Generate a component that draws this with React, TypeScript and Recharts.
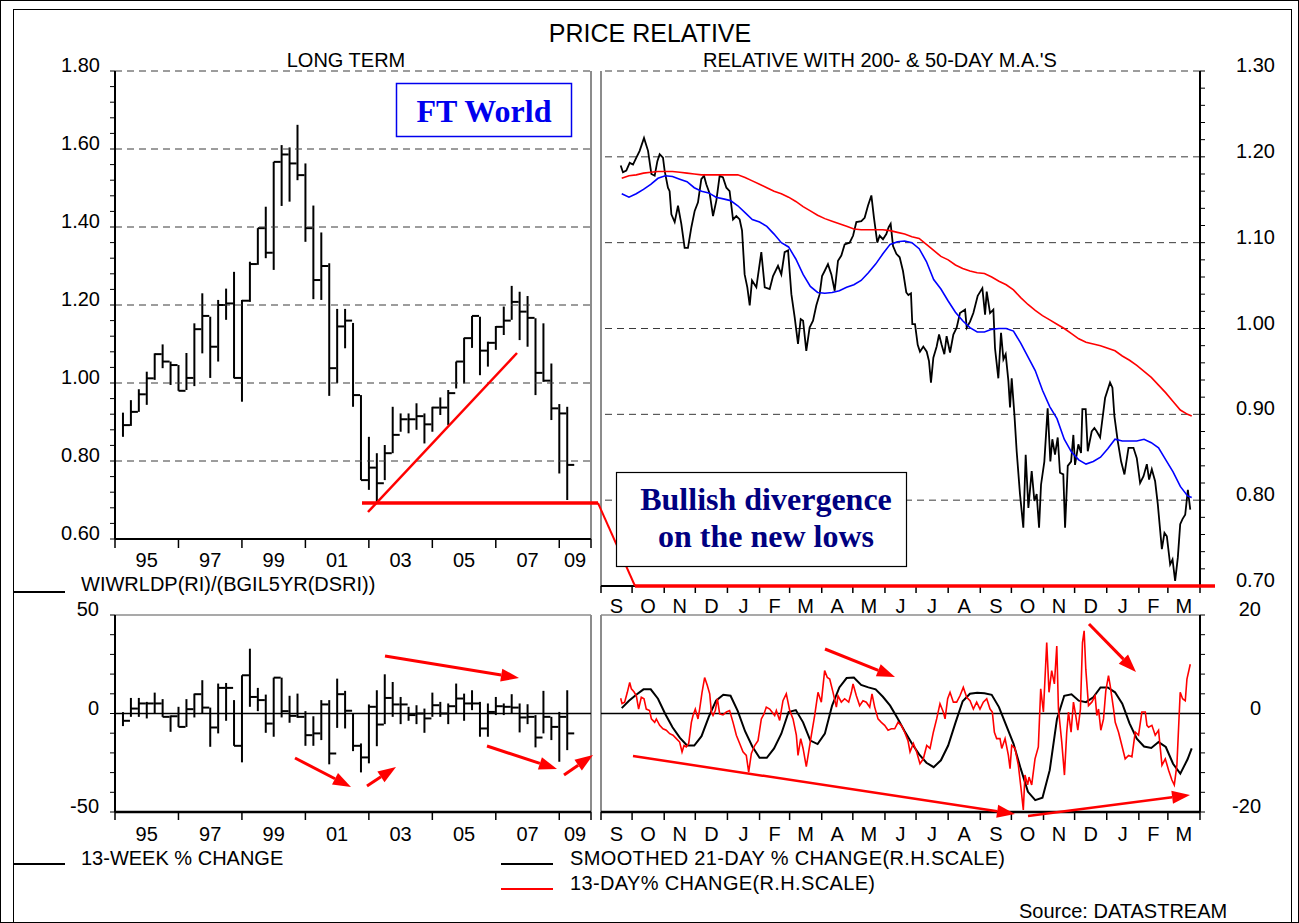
import React from 'react';
import { ComposedChart, LineChart, Line, Bar, XAxis, YAxis, ReferenceLine } from 'recharts';

const SANS = "'Liberation Sans', Arial, sans-serif";
const SERIF = "'Liberation Serif', 'Times New Roman', serif";
const RED = '#ff0000';

// ---- long term panel: quarterly price relative (high / low / close) ----
const ltQuarters = [
  '1995Q1', '1995Q2', '1995Q3', '1995Q4', '1996Q1', '1996Q2', '1996Q3', '1996Q4',
  '1997Q1', '1997Q2', '1997Q3', '1997Q4', '1998Q1', '1998Q2', '1998Q3', '1998Q4',
  '1999Q1', '1999Q2', '1999Q3', '1999Q4', '2000Q1', '2000Q2', '2000Q3', '2000Q4',
  '2001Q1', '2001Q2', '2001Q3', '2001Q4', '2002Q1', '2002Q2', '2002Q3', '2002Q4',
  '2003Q1', '2003Q2', '2003Q3', '2003Q4', '2004Q1', '2004Q2', '2004Q3', '2004Q4',
  '2005Q1', '2005Q2', '2005Q3', '2005Q4', '2006Q1', '2006Q2', '2006Q3', '2006Q4',
  '2007Q1', '2007Q2', '2007Q3', '2007Q4', '2008Q1', '2008Q2', '2008Q3', '2008Q4',
  '2009Q1',
];
const ltHigh = [
  0.924, 0.956, 0.984, 1.029, 1.076, 1.099, 1.055, 1.046, 1.077, 1.153,
  1.230, 1.170, 1.213, 1.242, 1.285, 1.213, 1.311, 1.397, 1.452, 1.567,
  1.610, 1.604, 1.662, 1.563, 1.455, 1.386, 1.307, 1.190, 1.190, 1.154,
  0.969, 0.862, 0.820, 0.841, 0.939, 0.922, 0.922, 0.948, 0.922, 0.939,
  0.963, 0.982, 1.055, 1.116, 1.172, 1.170, 1.106, 1.146, 1.196, 1.249,
  1.234, 1.223, 1.166, 1.153, 1.050, 0.946, 0.939,
];
const ltLow = [
  0.862, 0.890, 0.926, 0.944, 1.008, 1.038, 0.995, 0.980, 0.982, 0.992,
  1.076, 1.013, 1.055, 1.162, 1.012, 0.952, 1.208, 1.303, 1.320, 1.290,
  1.454, 1.465, 1.520, 1.362, 1.215, 1.213, 0.967, 1.000, 1.089, 0.939,
  0.751, 0.726, 0.692, 0.751, 0.820, 0.875, 0.871, 0.880, 0.845, 0.875,
  0.918, 0.892, 0.986, 0.999, 1.090, 1.020, 1.042, 1.085, 1.123, 1.162,
  1.110, 1.093, 0.969, 1.003, 0.905, 0.768, 0.700,
];
const ltClose = [
  0.892, 0.926, 0.971, 1.012, 1.074, 1.055, 1.046, 0.980, 1.013, 1.138,
  1.172, 1.093, 1.200, 1.204, 1.013, 1.211, 1.305, 1.397, 1.334, 1.567,
  1.586, 1.563, 1.533, 1.397, 1.264, 1.300, 1.038, 1.145, 1.160, 0.969,
  0.751, 0.783, 0.743, 0.820, 0.867, 0.907, 0.907, 0.915, 0.894, 0.937,
  0.937, 0.974, 1.055, 1.115, 1.172, 1.083, 1.103, 1.144, 1.160, 1.208,
  1.183, 1.167, 1.026, 1.006, 0.935, 0.922, 0.790,
];

// ---- 13-week % change, same quarters ----
const wkHigh = [
  0.7, 7.9, 7.9, 5.9, 10.6, 7.3, -1.0, 3.4, 7.3, 10.1,
  16.9, 3.0, 15.2, 15.5, 6.8, 19.4, 32.9, 13.0, 9.6, 18.2,
  18.2, 9.0, 10.1, 1.2, -1.4, 6.8, 6.8, 17.7, 11.5, 0.0,
  -15.2, 4.6, 11.8, 19.9, 16.0, 8.4, 3.4, 4.2, 2.5, 10.6,
  5.9, 5.1, 15.2, 10.1, 11.8, 5.9, 5.1, 8.4, 5.1, 9.8,
  5.1, 4.7, -0.8, 11.5, -1.7, 0.8, 11.8,
];
const wkLow = [
  -6.4, -1.7, -1.7, -2.5, 0.0, -1.7, -9.3, -6.8, -6.8, -2.0,
  0.0, -16.9, -10.1, -3.7, -16.4, -24.8, 3.4, 1.2, -9.8, -11.8,
  -2.0, -4.7, -2.2, -16.4, -16.4, -13.5, -25.8, -7.3, -7.6, -19.1,
  -29.9, -25.3, -16.6, -5.4, -1.7, -5.4, -3.7, -5.4, -9.8, -1.7,
  -1.7, -5.4, 0.0, -3.7, 1.7, -11.8, -11.8, -0.8, -0.8, 0.0,
  -9.6, -5.4, -17.2, -10.1, -13.5, -24.5, -18.6,
];
const wkClose = [
  -3.7, 2.5, 5.1, 5.1, 5.1, -1.7, -1.4, -6.8, 2.2, 9.8,
  3.0, -7.1, 13.0, 13.0, -16.4, 19.4, 8.4, 6.8, -5.1, 18.2,
  1.2, -1.2, -1.7, -11.0, -10.1, 4.6, -20.3, 9.8, 1.4, -16.4,
  -22.3, 3.4, -5.6, 7.9, 4.6, 4.6, -0.8, 0.0, -2.5, 4.2,
  0.0, 3.7, 7.6, 5.1, 5.1, -7.6, 0.8, 3.7, 3.4, 3.0,
  -2.0, -1.7, -12.2, -1.7, -6.8, -1.7, -10.1,
];

// ---- daily panels: price relative and 13-day change (days since 1 Sep 2007) ----
const priceDay = [
  19, 21.2, 24.4, 27.7, 30.9, 34.1, 37.3, 41.5, 45.4, 48.6, 51.8, 54.4, 56.6, 59.8, 61.4, 64.6,
  66.2, 67.9, 71.1, 74.3, 77.5, 80.7, 83.9, 87.2, 90.4, 93.6, 96.8, 99.4, 101.6, 104.9, 108.1, 111.3,
  114.5, 117.7, 121, 124.1, 127.4, 130.6, 133.8, 136.1, 138.6, 141.2, 143.5, 145.7, 149.9, 154.7, 158, 162.8,
  166, 170.8, 174, 177.2, 180.5, 183.7, 186.9, 190.1, 192.7, 195, 198.1, 201.3, 204.6, 207.8, 211, 213.3,
  215.8, 219, 222.3, 225.5, 228.7, 231.9, 235.1, 239.9, 243.2, 246.4, 251.2, 254.4, 257.6, 260.9, 263.4, 266.6,
  268.9, 272.1, 275.3, 277.6, 279.5, 281.8, 285, 288.2, 291.4, 294.6, 296.6, 299.1, 300.4, 303, 305.6, 307.8,
  311, 314.3, 316.5, 318.4, 320.7, 323.9, 326.2, 328.7, 331.3, 333.5, 336.8, 340, 343.2, 346.4, 351.3, 352.9,
  356.1, 359.3, 363.5, 368, 370.6, 372.2, 375.4, 378.6, 380.2, 383.4, 386, 388.3, 390.5, 393.1, 394.7, 396.3,
  398.9, 401.1, 404.3, 407.5, 409.8, 412.4, 415.6, 418.2, 420.4, 422.7, 424.6, 427.8, 431, 433.6, 435.5, 438.1,
  440.7, 442.9, 446.1, 447.8, 450.4, 453.6, 455.8, 457.4, 460.6, 463.2, 464.5, 467.7, 469.7, 473.5, 476.1, 478.4,
  481.6, 486.4, 491.2, 493.5, 495.4, 498.6, 501.9, 505.1, 509, 513.8, 517, 520.2, 523.5, 526.7, 528.9, 531.5,
  534.7, 537.3, 541.2, 543.7, 546, 549.2, 551.5, 554, 556.6, 558.9, 561.1, 563.7, 566.3, 568.6,
];
const priceVal = [
  1.190, 1.182, 1.184, 1.193, 1.191, 1.199, 1.207, 1.222, 1.207, 1.180, 1.178, 1.195, 1.203, 1.199, 1.184, 1.164,
  1.160, 1.133, 1.124, 1.143, 1.122, 1.094, 1.094, 1.118, 1.137, 1.147, 1.174, 1.178, 1.168, 1.157, 1.131, 1.149,
  1.178, 1.176, 1.164, 1.160, 1.127, 1.131, 1.127, 1.114, 1.063, 1.048, 1.027, 1.056, 1.048, 1.089, 1.048, 1.046,
  1.061, 1.073, 1.063, 1.089, 1.091, 1.040, 1.013, 0.982, 1.011, 1.009, 0.974, 1.001, 1.009, 1.027, 1.040, 1.061,
  1.067, 1.075, 1.063, 1.044, 1.079, 1.085, 1.098, 1.100, 1.108, 1.124, 1.125, 1.129, 1.143, 1.155, 1.129, 1.100,
  1.108, 1.104, 1.110, 1.118, 1.122, 1.096, 1.087, 1.083, 1.067, 1.042, 1.039, 1.041, 1.005, 1.005, 0.981, 0.973,
  0.979, 0.973, 0.962, 0.937, 0.966, 0.979, 0.993, 0.981, 0.970, 0.991, 0.972, 0.993, 1.001, 1.018, 1.022, 1.001,
  1.008, 1.018, 1.038, 1.047, 1.016, 1.043, 1.018, 1.022, 0.977, 0.942, 0.995, 0.964, 0.970, 0.939, 0.908, 0.942,
  0.900, 0.857, 0.807, 0.768, 0.853, 0.791, 0.834, 0.799, 0.807, 0.768, 0.818, 0.845, 0.907, 0.845, 0.871, 0.853,
  0.873, 0.832, 0.830, 0.768, 0.840, 0.845, 0.876, 0.841, 0.865, 0.855, 0.906, 0.906, 0.857, 0.880, 0.884, 0.880,
  0.873, 0.919, 0.937, 0.931, 0.898, 0.869, 0.845, 0.830, 0.861, 0.861, 0.849, 0.820, 0.828, 0.842, 0.824, 0.836,
  0.822, 0.795, 0.743, 0.762, 0.758, 0.725, 0.731, 0.706, 0.733, 0.772, 0.778, 0.783, 0.812, 0.789,
];
const chgDay = [
  19, 20.3, 22.8, 25.4, 27.7, 29.3, 31.8, 34.1, 36.3, 38.9, 41.5, 43.7, 46.9, 48.6, 51.8, 53.4,
  56.6, 59.8, 63, 66.3, 69.5, 72.7, 75.9, 78.2, 80.1, 82.3, 84.6, 87.2, 88.8, 91, 93.6, 95.2,
  97.5, 100, 102.6, 104.9, 106.5, 108.1, 110.3, 112.3, 114.5, 117.7, 121, 124.1, 127.4, 130.6, 133.8, 137,
  140.2, 142.5, 145.1, 148.3, 151.5, 154.7, 157.3, 159.5, 162.8, 165, 167.6, 169.2, 172.4, 175.6, 178.8, 182.1,
  185.3, 188.5, 190.1, 192.7, 195, 198.1, 200.4, 203, 206.2, 209.4, 212.6, 215.8, 218.4, 220.7, 223.9, 227.1,
  228.7, 231.9, 235.1, 239, 241.6, 243.2, 246.4, 249.6, 252.8, 256, 259.3, 261.5, 264.1, 267.3, 270.5, 273.7,
  277, 280.2, 283.4, 286.6, 289.8, 293, 296.2, 298.2, 301.4, 304.6, 307.8, 311, 314.3, 317.5, 320.7, 323.9,
  327.1, 330.3, 332, 334.5, 336.8, 340, 343.2, 346.4, 349.6, 352.9, 356.1, 359.3, 362.5, 365.7, 368.9, 372.2,
  375.4, 377.6, 379.6, 381.8, 385, 386.7, 389.9, 393.1, 394.7, 396.3, 399.5, 402.7, 405.3, 407.5, 409.1, 411.7,
  413, 415.6, 418.8, 422, 424.3, 426.9, 430.1, 432.3, 434.9, 437.5, 439.8, 441.4, 444.6, 447.2, 449.4, 451.1,
  453.6, 455.9, 458.1, 460.1, 462.6, 464.6, 466.2, 467.8, 470.4, 473.6, 476.8, 478.4, 480.1, 482.3, 484.9, 487.1,
  489.7, 491.3, 494.6, 496.2, 499.4, 502.6, 505.8, 509.1, 512.3, 515.5, 518.7, 521.9, 525.2, 526.8, 528.4, 531.6,
  534.8, 538, 541.3, 544.5, 547.7, 550.9, 553.2, 555.7, 558.9, 561.2, 563.8, 565.4, 568.6,
];
const chgVal = [
  3.1, 2.0, 2.3, 4.3, 6.3, 5.0, 4.4, 3.6, 0.9, 3.3, 3.0, 0.9, 0.6, -1.1, -1.8, -1.1,
  -2.4, -3.1, -3.4, -4.1, -4.4, -5.1, -5.8, -7.8, -6.5, -6.8, -6.1, -1.8, -0.4, 0.9, -1.1, 0.9,
  4.3, 7.3, 5.7, 4.0, 0.3, -0.4, 0.6, 3.0, -0.1, -0.3, 0.3, 0.6, -1.8, -4.4, -6.1, -7.8,
  -8.5, -11.9, -8.1, -6.5, -5.5, -1.1, -0.1, 1.3, 0.9, 0.3, -0.4, 0.6, -1.4, 2.6, 4.0, 0.6,
  -1.1, -4.4, -8.5, -5.1, -7.1, -10.8, -7.8, -4.4, -0.4, 4.3, 2.3, 8.7, 7.3, 7.0, 4.3, 1.3,
  3.6, 2.3, 3.0, 2.3, 4.3, 6.0, 3.6, 1.6, 2.6, 2.3, 1.3, 4.0, 1.3, -1.1, -1.8, -2.4,
  -3.4, -3.1, -3.1, -1.8, -2.4, -3.8, -5.5, -7.8, -6.1, -7.8, -10.2, -9.2, -6.5, -7.1, -3.8, -1.1,
  2.0, 0.3, -1.1, 3.0, 4.3, 2.3, 2.3, 3.6, 5.3, 3.3, 2.6, 0.9, 2.3, 0.9, 2.3, 3.0,
  0.9, 0.3, -3.8, -5.1, -5.1, -7.1, -5.1, -8.5, -11.2, -6.5, -7.1, -10.5, -15.2, -19.6, -12.5, -14.5,
  -12.9, -14.5, -9.2, -6.8, 5.0, 0.3, 14.4, 4.3, 8.7, 6.0, 13.7, 0.9, -5.8, -12.5, -3.8, 0.3,
  -3.8, 2.3, -0.4, -3.4, 0.9, 14.4, 16.8, 9.0, 1.6, 2.3, 3.6, -0.4, 0.9, -3.4, -1.1, 4.6,
  7.7, 5.7, 0.9, -1.8, -3.8, -6.5, -9.2, -8.5, -8.8, -3.8, -4.4, 0.3, 0.3, -2.4, -2.8, -2.4,
  -4.4, -3.4, -10.5, -9.2, -11.5, -13.5, -14.5, -10.5, 4.3, 3.0, 2.6, 7.0, 10.0,
];

const relDates = [
  '2007-09-21', '2007-09-28', '2007-10-05', '2007-10-12', '2007-10-19', '2007-10-26',
  '2007-11-02', '2007-11-09', '2007-11-16', '2007-11-23', '2007-11-30', '2007-12-07',
  '2007-12-14', '2007-12-21', '2007-12-28', '2008-01-04', '2008-01-11', '2008-01-18',
  '2008-01-25', '2008-02-01', '2008-02-08', '2008-02-15', '2008-02-22', '2008-02-29',
  '2008-03-07', '2008-03-14', '2008-03-21', '2008-03-28', '2008-04-04', '2008-04-11',
  '2008-04-18', '2008-04-25', '2008-05-02', '2008-05-09', '2008-05-16', '2008-05-23',
  '2008-05-30', '2008-06-06', '2008-06-13', '2008-06-20', '2008-06-27', '2008-07-04',
  '2008-07-11', '2008-07-18', '2008-07-25', '2008-08-01', '2008-08-08', '2008-08-15',
  '2008-08-22', '2008-08-29', '2008-09-05', '2008-09-12', '2008-09-19', '2008-09-26',
  '2008-10-03', '2008-10-10', '2008-10-17', '2008-10-24', '2008-10-31', '2008-11-07',
  '2008-11-14', '2008-11-21', '2008-11-28', '2008-12-05', '2008-12-12', '2008-12-19',
  '2008-12-26', '2009-01-02', '2009-01-09', '2009-01-16', '2009-01-23', '2009-01-30',
  '2009-02-06', '2009-02-13', '2009-02-20', '2009-02-27', '2009-03-06', '2009-03-13',
  '2009-03-20', '2009-03-24',
];
const relMa50 = [
  1.157, 1.153, 1.157, 1.162, 1.168, 1.175, 1.178, 1.177, 1.174, 1.171,
  1.164, 1.160, 1.158, 1.153, 1.151, 1.149, 1.143, 1.135, 1.127, 1.124,
  1.119, 1.110, 1.100, 1.095, 1.081, 1.063, 1.049, 1.042, 1.041, 1.042,
  1.044, 1.048, 1.051, 1.056, 1.065, 1.075, 1.087, 1.098, 1.101, 1.102,
  1.100, 1.093, 1.078, 1.057, 1.046, 1.032, 1.019, 1.009, 1.001, 0.996,
  0.996, 0.999, 1.000, 1.000, 0.997, 0.983, 0.967, 0.951, 0.928, 0.909,
  0.895, 0.871, 0.856, 0.847, 0.842, 0.845, 0.850, 0.860, 0.871, 0.869,
  0.869, 0.869, 0.871, 0.867, 0.861, 0.847, 0.833, 0.816, 0.805, 0.803,
];
const relMa200 = [
  1.175, 1.178, 1.179, 1.181, 1.182, 1.183, 1.183, 1.183, 1.182, 1.181,
  1.180, 1.179, 1.179, 1.179, 1.179, 1.179, 1.179, 1.176, 1.172, 1.168,
  1.164, 1.160, 1.157, 1.153, 1.148, 1.142, 1.137, 1.132, 1.128, 1.125,
  1.122, 1.119, 1.116, 1.115, 1.115, 1.115, 1.115, 1.114, 1.112, 1.110,
  1.107, 1.105, 1.098, 1.091, 1.084, 1.080, 1.074, 1.070, 1.067, 1.065,
  1.064, 1.060, 1.055, 1.051, 1.045, 1.036, 1.028, 1.021, 1.015, 1.010,
  1.005, 1.000, 0.994, 0.988, 0.984, 0.982, 0.980, 0.977, 0.974, 0.968,
  0.963, 0.957, 0.950, 0.943, 0.934, 0.925, 0.915, 0.905, 0.900, 0.898,
];
const chgSmooth = [
  1.1, 2.6, 3.8, 4.9, 4.9, 3.0, -0.1, -2.8, -4.9, -6.5,
  -6.5, -4.6, -0.7, 2.6, 3.8, 3.6, 0.5, -3.6, -6.7, -9.0,
  -9.0, -7.1, -4.1, 0.3, 0.7, -1.8, -5.5, -6.2, -4.1, 1.6,
  5.3, 7.2, 7.3, 5.8, 5.3, 4.9, 3.4, 1.6, -0.9, -3.6,
  -6.1, -8.3, -10.0, -10.9, -9.5, -6.5, -1.9, 2.5, 4.0, 4.2,
  4.1, 3.8, 1.3, -2.4, -6.1, -11.2, -15.9, -17.6, -17.1, -11.5,
  -1.1, 3.6, 3.9, 2.6, 2.3, 3.3, 5.3, 5.3, 4.3, 2.0,
  -2.0, -5.1, -6.7, -7.0, -5.8, -6.8, -10.2, -12.2, -9.3, -7.1,
];

// ---- axis ticks and labels ----
const yearMarks = [1995, 1997, 1999, 2001, 2003, 2005, 2007, 2009, 2010];
const yearLabelPos = [1996, 1998, 2000, 2002, 2004, 2006, 2008, 2009.5];
const yearLabels = ['95', '97', '99', '01', '03', '05', '07', '09'];
const monthStarts = [
  '2007-09-01', '2007-10-01', '2007-11-01', '2007-12-01', '2008-01-01', '2008-02-01',
  '2008-03-01', '2008-04-01', '2008-05-01', '2008-06-01', '2008-07-01', '2008-08-01',
  '2008-09-01', '2008-10-01', '2008-11-01', '2008-12-01', '2009-01-01', '2009-02-01',
  '2009-03-01', '2009-04-01',
];
const monthLabels = ['S', 'O', 'N', 'D', 'J', 'F', 'M', 'A', 'M', 'J', 'J', 'A', 'S', 'O', 'N', 'D', 'J', 'F', 'M'];
const ltGrid = [0.8, 1.0, 1.2, 1.4, 1.6, 1.8];
const relGrid = [0.8, 0.9, 1.0, 1.1, 1.2, 1.3];

const steps = (from: number, to: number, step: number) => {
  const n = Math.round((to - from) / step);
  const out: number[] = [];
  for (let k = 0; k <= n; k++) out.push(Math.round((from + k * step) * 1000) / 1000);
  return out;
};
const quarterPos = (q: string) => Number(q.slice(0, 4)) + Number(q.slice(5)) * 0.25;
const dayPos = (s: string) =>
  (Date.UTC(+s.slice(0, 4), +s.slice(5, 7) - 1, +s.slice(8, 10)) - Date.UTC(2007, 8, 1)) / 86400000;

const ltData = ltQuarters.map((q, i) => ({ t: quarterPos(q), range: [ltLow[i], ltHigh[i]], close: ltClose[i] }));
const wkData = ltQuarters.map((q, i) => ({ t: quarterPos(q), range: [wkLow[i], wkHigh[i]], close: wkClose[i] }));
const weekData = relDates.map((d, i) => ({ d: dayPos(d), ma50: relMa50[i], ma200: relMa200[i], smooth: chgSmooth[i] }));
const priceData = priceDay.map((d, i) => ({ d, price: priceVal[i] }));
const chgData = chgDay.map((d, i) => ({ d, chg: chgVal[i] }));

const monthDays = monthStarts.map(dayPos);
const monthMid = monthLabels.map((_, i) => (monthDays[i] + monthDays[i + 1]) / 2);
const yearTicks = [...yearMarks, ...yearLabelPos].sort((a, b) => a - b);
const monthTicks = [...monthDays, ...monthMid].sort((a, b) => a - b);

function makeXTick(marks: number[], pos: number[], labels: string[], len: number, base: number) {
  const markSet = new Set(marks);
  const labelAt = new Map(pos.map((p, i) => [p, labels[i]] as [number, string]));
  return (props: any) => {
    const { x, y, payload } = props;
    const v = payload.value;
    if (markSet.has(v)) return <line x1={x} y1={y} x2={x} y2={y + len} stroke="#000" strokeWidth={1.5} />;
    const lab = labelAt.get(v);
    if (!lab) return <g />;
    return (
      <text x={x} y={y + base} textAnchor="middle" fontSize={20} fontFamily={SANS} fill="#000">
        {lab}
      </text>
    );
  };
}

function makeYTick(side: 'left' | 'right', label: (v: number) => string | null, dx: number, anchor: 'start' | 'end') {
  return (props: any) => {
    const { x, y, payload } = props;
    const lab = label(payload.value);
    const dir = side === 'left' ? -1 : 1;
    return (
      <g>
        <line x1={x} y1={y} x2={x + dir * 5} y2={y} stroke="#000" strokeWidth={1} />
        {lab !== null && (
          <text x={x + dx} y={y + 1} textAnchor={anchor} fontSize={20} fontFamily={SANS} fill="#000">
            {lab}
          </text>
        )}
      </g>
    );
  };
}

// vertical high-low line with the close as a tick to the right
const HLCShape = (props: any) => {
  const { x, y, width, height, payload } = props;
  const cx = x + width / 2;
  const top = Math.min(y, y + height);
  const bot = Math.max(y, y + height);
  const [lo, hi] = payload.range;
  const cy = hi === lo ? top : bot - ((payload.close - lo) / (hi - lo)) * (bot - top);
  return (
    <g>
      <line x1={cx} y1={top} x2={cx} y2={bot} stroke="#000" strokeWidth={2} />
      <line x1={cx} y1={cy} x2={cx + 7} y2={cy} stroke="#000" strokeWidth={2} />
    </g>
  );
};

function Arrow({ x1, y1, x2, y2, w = 3 }: { x1: number; y1: number; x2: number; y2: number; w?: number }) {
  const a = Math.atan2(y2 - y1, x2 - x1);
  const head = 18;
  const hw = 6.5;
  const bx = x2 - head * Math.cos(a);
  const by = y2 - head * Math.sin(a);
  const px = -Math.sin(a) * hw;
  const py = Math.cos(a) * hw;
  return (
    <g>
      <line x1={x1} y1={y1} x2={bx} y2={by} stroke={RED} strokeWidth={w} />
      <polygon points={`${x2},${y2} ${bx + px},${by + py} ${bx - px},${by - py}`} fill={RED} />
    </g>
  );
}

const yearTick = makeXTick(yearMarks, yearLabelPos, yearLabels, 9, 28);
const yearTickLow = makeXTick(yearMarks, yearLabelPos, yearLabels, 8, 29);
const monthTick = makeXTick(monthDays, monthMid, monthLabels, 7, 27);
const monthTickLow = makeXTick(monthDays, monthMid, monthLabels, 8, 29);

const ltYTick = makeYTick('left', (v) => (Math.round(v * 100) % 20 === 0 ? v.toFixed(2) : null), -15, 'end');
const wkYTick = makeYTick('left', (v) => (v % 50 === 0 ? String(v) : null), -16, 'end');
const relYTick = makeYTick('right', (v) => (Math.round(v * 100) % 10 === 0 ? v.toFixed(2) : null), 36, 'start');
const chgYTick = makeYTick('right', (v) => (v % 20 === 0 ? String(v) : null), 61, 'end');

const axisBlack = { stroke: '#000', strokeWidth: 2 };
const GRID = '#3a3a3a';
const BORDER = '#8c8c8c';

export default function App() {
  return (
    <div style={{ position: 'absolute', left: 0, top: 0, width: 1299, height: 923, background: '#fff', overflow: 'hidden' }}>
      {/* long term */}
      <div style={{ position: 'absolute', left: 40, top: 40 }}>
        <ComposedChart width={560} height={540} data={ltData} margin={{ top: 31, right: 9, bottom: 11, left: 15 }}>
          <XAxis dataKey="t" type="number" domain={[1995, 2010]} ticks={yearTicks} interval={0} height={30}
            tickLine={false} tickSize={0} tickMargin={0} axisLine={axisBlack} tick={yearTick} allowDataOverflow />
          <YAxis type="number" domain={[0.6, 1.8]} ticks={steps(0.6, 1.8, 0.04)} interval={0} width={60}
            tickLine={false} tickSize={0} tickMargin={0} axisLine={axisBlack} tick={ltYTick} allowDataOverflow />
          {ltGrid.map((v) => (
            <ReferenceLine key={v} y={v} stroke={GRID} strokeDasharray="7 5" />
          ))}
          <ReferenceLine x={2010} stroke={BORDER} strokeWidth={2} />
          <Bar dataKey="range" barSize={2} shape={HLCShape} isAnimationActive={false} />
        </ComposedChart>
      </div>

      {/* relative with moving averages */}
      <div style={{ position: 'absolute', left: 590, top: 40 }}>
        <LineChart width={695} height={580} data={weekData} margin={{ top: 31, right: 5, bottom: 4, left: 11 }}>
          <XAxis dataKey="d" type="number" domain={[0, 578]} ticks={monthTicks} interval={0} height={30}
            tickLine={false} tickSize={0} tickMargin={0} axisLine={axisBlack} tick={monthTick} allowDataOverflow />
          <YAxis orientation="right" type="number" domain={[0.7, 1.3]} ticks={steps(0.7, 1.3, 0.02)} interval={0} width={80}
            tickLine={false} tickSize={0} tickMargin={0} axisLine={axisBlack} tick={relYTick} allowDataOverflow />
          {relGrid.map((v) => (
            <ReferenceLine key={v} y={v} stroke={GRID} strokeDasharray="7 5" />
          ))}
          <ReferenceLine x={0} stroke={BORDER} strokeWidth={2} />
          <Line data={priceData} dataKey="price" stroke="#000" strokeWidth={1.8} dot={false} isAnimationActive={false} />
          <Line dataKey="ma50" stroke="#0000ff" strokeWidth={1.6} dot={false} isAnimationActive={false} />
          <Line dataKey="ma200" stroke={RED} strokeWidth={1.6} dot={false} isAnimationActive={false} />
        </LineChart>
      </div>

      {/* 13-week % change */}
      <div style={{ position: 'absolute', left: 40, top: 584 }}>
        <ComposedChart width={560} height={262} data={wkData} margin={{ top: 31, right: 9, bottom: 4, left: 15 }}>
          <XAxis dataKey="t" type="number" domain={[1995, 2010]} ticks={yearTicks} interval={0} height={30}
            tickLine={false} tickSize={0} tickMargin={0} axisLine={{ stroke: '#000', strokeWidth: 2.5 }} tick={yearTickLow} allowDataOverflow />
          <YAxis type="number" domain={[-50, 50]} ticks={steps(-50, 50, 10)} interval={0} width={60}
            tickLine={false} tickSize={0} tickMargin={0} axisLine={axisBlack} tick={wkYTick} allowDataOverflow />
          <ReferenceLine y={50} stroke={BORDER} strokeWidth={1.5} />
          <ReferenceLine x={2010} stroke={BORDER} strokeWidth={2} />
          <ReferenceLine y={0} stroke="#000" strokeWidth={1.5} />
          <Bar dataKey="range" barSize={2} shape={HLCShape} isAnimationActive={false} />
        </ComposedChart>
      </div>

      {/* daily % changes */}
      <div style={{ position: 'absolute', left: 590, top: 584 }}>
        <LineChart width={695} height={262} data={weekData} margin={{ top: 31, right: 5, bottom: 4, left: 11 }}>
          <XAxis dataKey="d" type="number" domain={[0, 578]} ticks={monthTicks} interval={0} height={30}
            tickLine={false} tickSize={0} tickMargin={0} axisLine={{ stroke: '#000', strokeWidth: 2.5 }} tick={monthTickLow} allowDataOverflow />
          <YAxis orientation="right" type="number" domain={[-20, 20]} ticks={steps(-20, 20, 4)} interval={0} width={80}
            tickLine={false} tickSize={0} tickMargin={0} axisLine={axisBlack} tick={chgYTick} allowDataOverflow />
          <ReferenceLine y={20} stroke={BORDER} strokeWidth={1.5} />
          <ReferenceLine x={0} stroke={BORDER} strokeWidth={2} />
          <ReferenceLine y={0} stroke="#000" strokeWidth={1.5} />
          <Line dataKey="smooth" stroke="#000" strokeWidth={2} dot={false} isAnimationActive={false} />
          <Line data={chgData} dataKey="chg" stroke={RED} strokeWidth={1.6} dot={false} isAnimationActive={false} />
        </LineChart>
      </div>

      {/* titles, legends, annotations */}
      <svg width={1299} height={923} style={{ position: 'absolute', left: 0, top: 0, pointerEvents: 'none' }}>
        <rect x={0.5} y={0.5} width={1298} height={922} fill="none" stroke="#000" strokeWidth={1} />
        <rect x={13.5} y={9.5} width={1278} height={920} fill="none" stroke="#000" strokeWidth={1} />

        <g fontFamily={SANS} fill="#000">
          <text x={650} y={42} fontSize={25} textAnchor="middle">PRICE RELATIVE</text>
          <text x={346} y={67} fontSize={20} textAnchor="middle">LONG TERM</text>
          <text x={880} y={67} fontSize={20} textAnchor="middle">RELATIVE WITH 200- &amp; 50-DAY M.A.'S</text>

          <text x={81} y={591} fontSize={20}>WIWRLDP(RI)/(BGIL5YR(DSRI))</text>
          <line x1={14} y1={592} x2={65} y2={592} stroke="#000" strokeWidth={2} />

          <text x={81} y={865} fontSize={20}>13-WEEK % CHANGE</text>
          <line x1={14} y1={864} x2={65} y2={864} stroke="#000" strokeWidth={2} />

          <text x={570} y={865} fontSize={20} textLength={435}>SMOOTHED 21-DAY % CHANGE(R.H.SCALE)</text>
          <line x1={501} y1={864} x2={553} y2={864} stroke="#000" strokeWidth={2} />

          <text x={570} y={890} fontSize={20} textLength={305}>13-DAY% CHANGE(R.H.SCALE)</text>
          <line x1={501} y1={889} x2={553} y2={889} stroke={RED} strokeWidth={2} />

          <text x={1019} y={918} fontSize={20}>Source: DATASTREAM</text>
        </g>

        <rect x={396.5} y={83.5} width={175} height={53} fill="#fff" stroke="#0000ee" strokeWidth={1.5} />
        <text x={484} y={122} fontSize={32} fontWeight="bold" fontFamily={SERIF} fill="#0000ee" textAnchor="middle">
          FT World
        </text>

        {/* trend line on the long term panel and the link to the new lows */}
        <line x1={368} y1={512} x2={517} y2={353} stroke={RED} strokeWidth={2.5} />
        <line x1={362} y1={503} x2={598} y2={503} stroke={RED} strokeWidth={3.5} />
        <line x1={598} y1={503} x2={635} y2={586} stroke={RED} strokeWidth={2} />
        <line x1={635} y1={586} x2={1215} y2={586} stroke={RED} strokeWidth={3.5} />

        <rect x={616.5} y={472.5} width={290} height={94} fill="#fff" stroke="#000" strokeWidth={1.2} />
        <g fontFamily={SERIF} fontWeight="bold" fontSize={32} fill="#000080" textAnchor="middle">
          <text x={766} y={510}>Bullish divergence</text>
          <text x={766} y={547}>on the new lows</text>
        </g>

        {/* momentum arrows */}
        <Arrow x1={295} y1={758} x2={351} y2={787} />
        <Arrow x1={367} y1={786} x2={396} y2={767} />
        <Arrow x1={385} y1={656} x2={519} y2={678} />
        <Arrow x1={487} y1={746} x2={557} y2={769} />
        <Arrow x1={564} y1={775} x2={593} y2={755} />
        <Arrow x1={825} y1={649} x2={895} y2={677} />
        <Arrow x1={1089} y1={624} x2={1136} y2={672} />
        <Arrow x1={633} y1={756} x2={1015} y2={814} w={2.5} />
        <Arrow x1={1028} y1={816} x2={1190} y2={795} w={2.5} />
      </svg>
    </div>
  );
}
